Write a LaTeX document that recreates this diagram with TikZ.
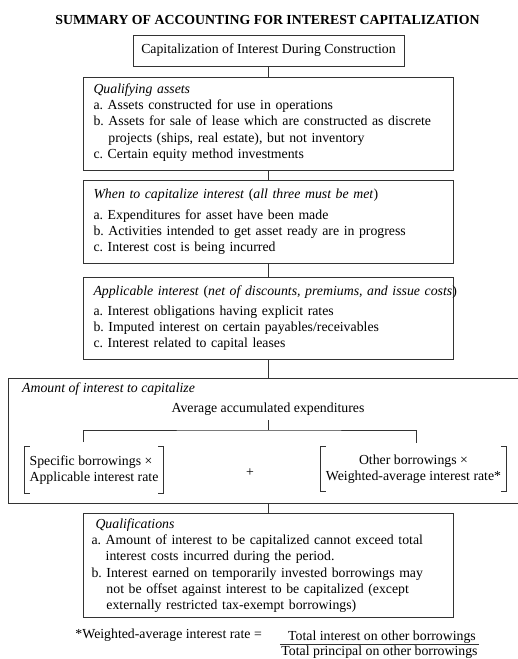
\documentclass[tikz,border=0pt]{standalone}
\usepackage{fontspec}
\setmainfont{Liberation Serif}
\usetikzlibrary{positioning}
\frenchspacing

\newcommand{\fs}{\fontsize{13.8}{16.3}\selectfont}

\begin{document}
\begin{tikzpicture}
  [x=1pt,y=-1pt,
    line/.style={draw=black!80,line width=1pt},
    box/.style={line,anchor=north west,text width=350pt,inner xsep=10pt,
      inner ysep=0pt,align=left,font=\fs},
    txt/.style={inner sep=0pt,font=\fs}]
  \useasboundingbox (0,0) rectangle (518,659);
  \clip (0,0) rectangle (518,659);

  \node[txt,font=\fs\bfseries] (title) at (267.5,20)
    {SUMMARY OF ACCOUNTING FOR INTEREST CAPITALIZATION};
  \node[line,font=\fs,minimum width=271pt,minimum height=31pt,inner sep=0pt]
    (cap) at (268.5,50.5) {Capitalization of Interest During Construction};

  \node[box,minimum height=93pt] (qa) at (83,77) {%
    \textit{Qualifying assets}\\
    a. Assets constructed for use in operations\\
    b. Assets for sale of lease which are constructed as discrete\\
    \phantom{b. }projects (ships, real estate), but not inventory\\
    c. Certain equity method investments\rule[-6pt]{0pt}{0pt}};
  \node[box,minimum height=83pt] (when) at (83,180) {%
    \textit{When to capitalize interest} (\textit{all three must be met})\\[4pt]
    a. Expenditures for asset have been made\\
    b. Activities intended to get asset ready are in progress\\
    c. Interest cost is being incurred};
  \node[box,minimum height=82pt] (app) at (83,277) {%
    \mbox{\textit{Applicable interest} (\textit{net of discounts, premiums, and issue costs})}\\[3pt]
    a. Interest obligations having explicit rates\\
    b. Imputed interest on certain payables/receivables\\
    c. Interest related to capital leases};

  % amount box runs off the right edge
  \node[line,anchor=north west,minimum width=540pt,minimum height=125pt]
    (amount) at (8,378) {};
  \node[txt,anchor=west] (amt) at (22,389) {\textit{Amount of interest to capitalize}};
  \node[txt,inner ysep=5pt] (avg) at (268,409) {Average accumulated expenditures};
  \coordinate (split) at (268,430);
  \coordinate (left) at (83,442);
  \coordinate (right) at (416,443);
  \draw[line] (avg) -- (split);
  \draw[line] (left) |- (split) -| (right);

  \node[txt,minimum width=138pt,minimum height=46pt,align=left] (spec) at (94,470)
    {Specific borrowings ×\\Applicable interest rate};
  \draw[line] ([xshift=5pt]spec.north west) -- (spec.north west)
    -- (spec.south west) -- ([xshift=5pt]spec.south west);
  \draw[line] ([xshift=-5pt]spec.north east) -- (spec.north east)
    -- (spec.south east) -- ([xshift=-5pt]spec.south east);
  \node[txt] (plus) at (250,473) {+};
  \node[txt,minimum width=185pt,minimum height=44pt,align=center] (other) at (413.5,469)
    {Other borrowings ×\\Weighted-average interest rate*};
  \draw[line] ([xshift=5pt]other.north west) -- (other.north west)
    -- (other.south west) -- ([xshift=5pt]other.south west);
  \draw[line] ([xshift=-5pt]other.north east) -- (other.north east)
    -- (other.south east) -- ([xshift=-5pt]other.south east);

  \node[box,minimum height=104pt,text width=354pt,inner xsep=8pt] (qual) at (83,513) {%
    \hspace*{4pt}\textit{Qualifications}\\
    a. Amount of interest to be capitalized cannot exceed total\\
    \phantom{a. }interest costs incurred during the period.\\
    b. Interest earned on temporarily invested borrowings may\\
    \phantom{b. }not be offset against interest to be capitalized (except\\
    \phantom{b. }externally restricted tax-exempt borrowings)};

  % connectors
  \draw[line] (cap) -- (cap |- qa.north);
  \draw[line] (qa) -- (when);
  \draw[line] (when) -- (app);
  \draw[line] (app) -- (app |- amount.north);
  \draw[line] (amount.south -| qual.north) -- (qual);

  % footnote
  \node[txt,anchor=east] (wtd) at (262,635) {*Weighted-average interest rate =};
  \node[txt] (num) at (382,637) {Total interest on other borrowings};
  \node[txt,inner sep=1.5pt] (den) at (379.5,652) {Total principal on other borrowings};
  \draw[line,line width=0.8pt] (den.north west) -- (den.north east);
\end{tikzpicture}
\end{document}
